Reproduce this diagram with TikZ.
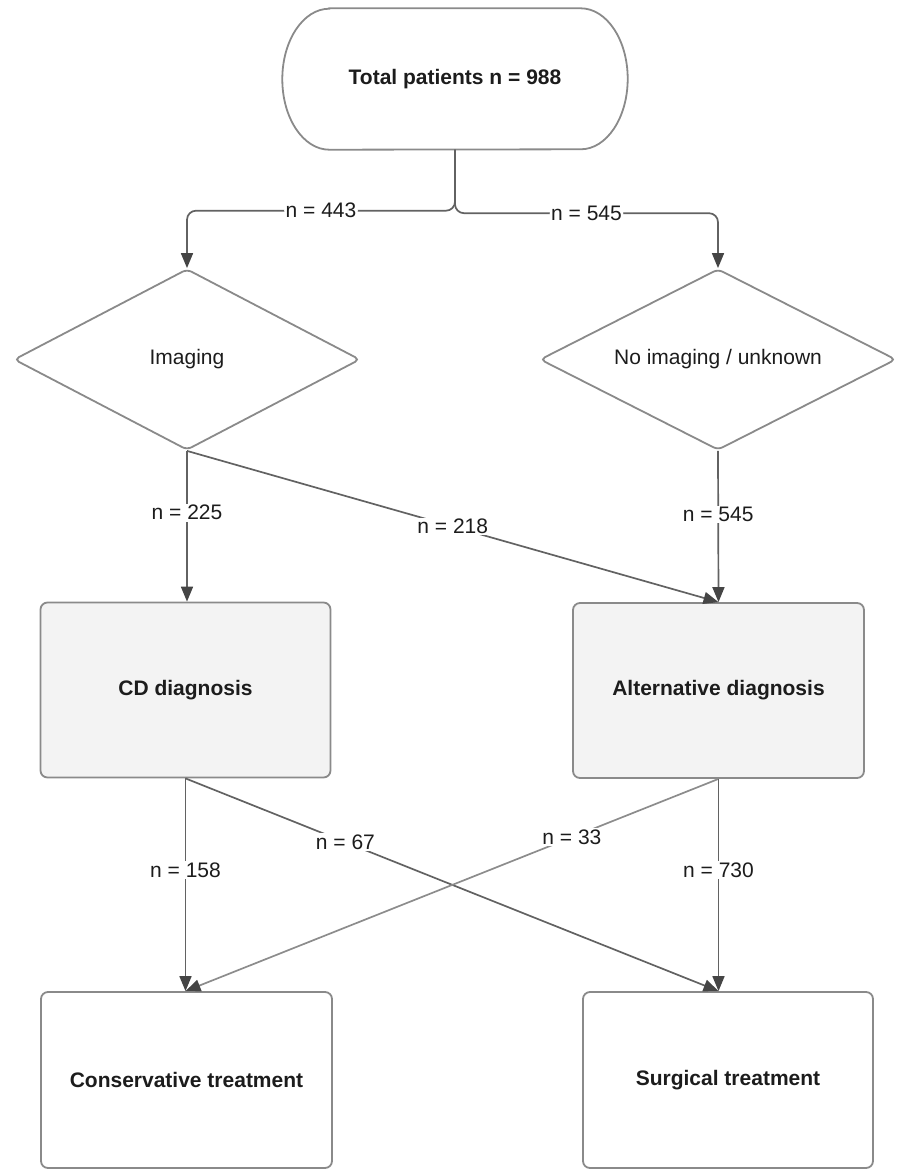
\documentclass[tikz,border=0pt]{standalone}
\usepackage{fontspec}
\setmainfont{Liberation Sans}
\usetikzlibrary{arrows.meta,shapes.geometric}
\definecolor{linec}{HTML}{626262}
\definecolor{lightlinec}{HTML}{8C8C8C}
\definecolor{tipc}{HTML}{454545}
\definecolor{boxc}{HTML}{8A8A8A}
\definecolor{txtc}{HTML}{1C1C1C}
\definecolor{shade}{HTML}{F3F3F3}
\tikzset{
  txt/.style={font=\fontsize{21}{25}\selectfont, text=txtc},
  boldtxt/.style={font=\fontsize{21}{25}\selectfont\bfseries, text=txtc},
  boxline/.style={draw=boxc, line width=1.8pt},
  decision/.style={diamond, aspect=1.95, boxline, txt, rounded corners=5pt, inner sep=0pt},
  stepbox/.style={rectangle, boxline, boldtxt, rounded corners=7pt, minimum width=290pt, minimum height=175pt},
  shadedbox/.style={stepbox, fill=shade},
  conn/.style={draw=linec, line width=1.7pt, -{Triangle[length=15pt,width=12pt,color=tipc]}},
  lbl/.style={txt, fill=white, inner sep=1.5pt}
}
\begin{document}
\begin{tikzpicture}[x=1pt,y=-1pt]
\useasboundingbox (0,0) rectangle (899,1170);

% start terminal (stadium with elliptical ends)
\node[boldtxt, minimum width=251pt, minimum height=141pt, inner sep=0pt] (top) at (455,79) {Total patients n = 988};
\draw[boxline] (top.north west) -- (top.north east)
  arc[start angle=90, end angle=-90, x radius=47pt, y radius=70.5pt]
  -- (top.south west)
  arc[start angle=270, end angle=90, x radius=47pt, y radius=70.5pt] -- cycle;

% decisions
\node[decision, minimum width=346pt, minimum height=181pt] (img) at (187,359.5) {Imaging};
\node[decision, minimum width=356pt, minimum height=181pt] (noimg) at (718,359.5) {No imaging / unknown};

% diagnoses
\node[shadedbox] (cd) at (185.5,690) {CD diagnosis};
\node[shadedbox, minimum width=291pt] (alt) at (718.5,690.5) {Alternative diagnosis};

% treatments
\node[stepbox, minimum width=291pt, minimum height=176pt] (cons) at (186.5,1080) {Conservative treatment};
\node[stepbox, minimum height=176pt] (surg) at (728,1080) {Surgical treatment};

\coordinate (cdIn) at (img.south |- cd.north);
\coordinate (consIn) at (cd.south |- cons.north);
\coordinate (surgIn) at (alt.south |- surg.north);

% top split
\draw[conn, rounded corners=9pt] (top.south) -- ++(0,61) -| (img.north)
  node[lbl, pos=0.25] (l443) {n = 443};
\draw[conn, rounded corners=9pt] (top.south) -- ++(0,63.5) -| (noimg.north)
  node[lbl, pos=0.25] (l545a) {n = 545};

% decisions to diagnoses
\draw[conn] (img.south) -- (cdIn) node[lbl, pos=0.41] (l225) {n = 225};
\draw[conn] (img.south) -- (alt.north) node[lbl, pos=0.5] (l218) {n = 218};
\draw[conn] (noimg.south) -- (alt.north) node[lbl, pos=0.42] (l545b) {n = 545};

% diagnoses to treatments
\draw[conn] (cd.south) -- (consIn) node[lbl, pos=0.43] (l158) {n = 158};
\draw[conn] (cd.south) -- (surgIn) node[lbl, pos=0.3] (l67) {n = 67};
\draw[conn, draw=lightlinec] (alt.south) -- (consIn) node[lbl, pos=0.275] (l33) {n = 33};
\draw[conn] (alt.south) -- (surgIn) node[lbl, pos=0.43] (l730) {n = 730};

\end{tikzpicture}
\end{document}
